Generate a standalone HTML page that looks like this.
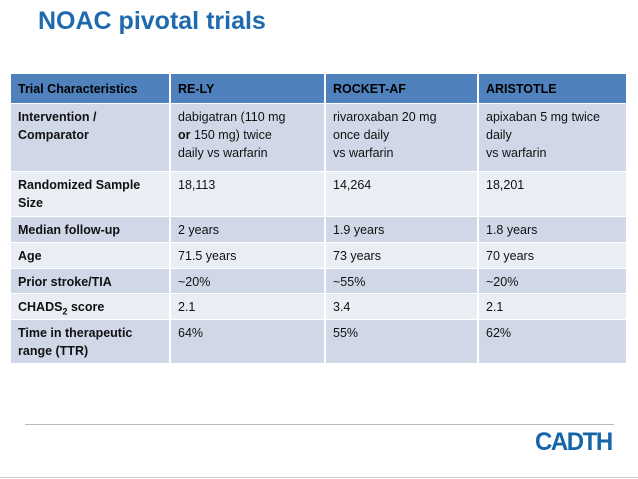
<!DOCTYPE html>
<html><head><meta charset="utf-8"><style>
body{margin:0;width:638px;height:479px;background:#fff;position:relative;overflow:hidden;font-family:"Liberation Sans",sans-serif}
.c{position:absolute;box-sizing:border-box;padding:4px 7px;font-size:12.5px;line-height:18px;color:#111}
.h{background:#4F81BD;font-weight:bold;color:#000;padding-top:6px}
.d{background:#D0D8E8}.l{background:#E9EDF4}
.b{font-weight:bold}
</style></head><body>
<div style="position:absolute;left:38px;top:7px;font-size:25px;font-weight:bold;color:#1F6AAE">NOAC pivotal trials</div>
<div id="t"></div>
<div style="position:absolute;left:25px;top:424px;width:589px;height:1px;background:#bbb"></div>
<div style="position:absolute;left:535px;top:428px;font-size:25px;font-weight:bold;color:#1565A8;letter-spacing:-1.5px;transform:scaleX(0.96);transform-origin:left">CADTH</div>
<div style="position:absolute;left:0;top:477px;width:638px;height:1px;background:#ccc"></div>
<script>
const cols=[11,171,326,479,626];
const rows=[[74,29],[104,67],[172,44],[217,25],[243,25],[269,24],[294,25],[320,43]];
const data=[
["Trial Characteristics","RE-LY","ROCKET-AF","ARISTOTLE"],
["Intervention / Comparator","dabigatran (110 mg<br><b>or</b> 150 mg) twice<br>daily vs warfarin","rivaroxaban 20 mg<br>once daily<br>vs warfarin","apixaban 5 mg twice<br>daily<br>vs warfarin"],
["Randomized Sample Size","18,113","14,264","18,201"],
["Median follow-up","2 years","1.9 years","1.8 years"],
["Age","71.5 years","73 years","70 years"],
["Prior stroke/TIA","~20%","~55%","~20%"],
["CHADS<sub style='font-size:9px'>2</sub> score","2.1","3.4","2.1"],
["Time in therapeutic range (TTR)","64%","55%","62%"]];
const t=document.getElementById('t');
data.forEach((r,i)=>r.forEach((v,j)=>{
const e=document.createElement('div');


e.className='c '+(i==0?'h':(i%2?'d':'l'))+(j==0?' b':'');
e.style.left=cols[j]+'px';e.style.width=(cols[j+1]-cols[j]-(j<3?2:0))+'px';
e.style.top=rows[i][0]+'px';e.style.height=rows[i][1]+'px';
e.innerHTML=v;t.appendChild(e);}));
</script>
</body></html>
